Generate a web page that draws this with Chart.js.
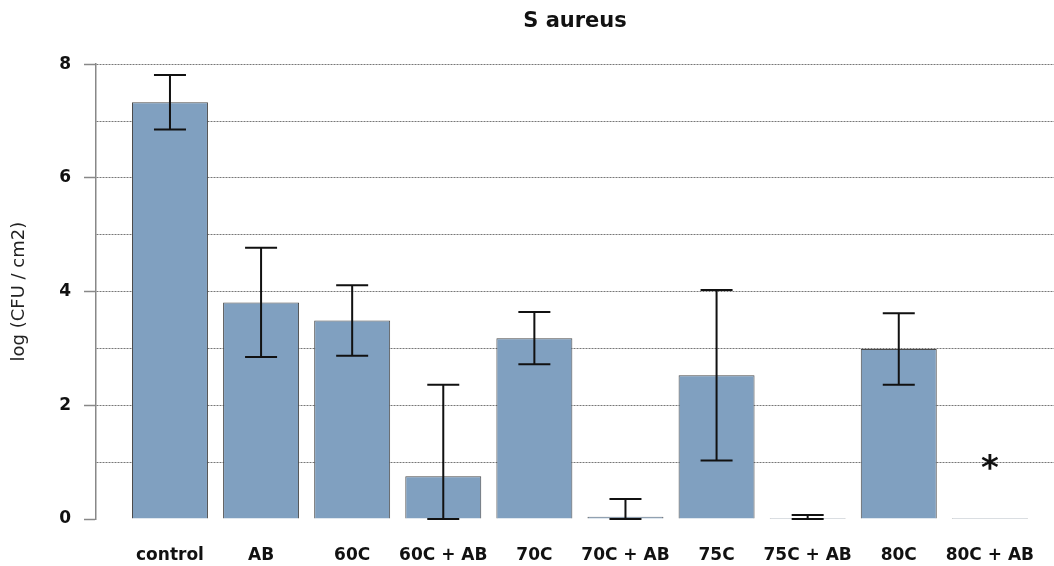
<!DOCTYPE html>
<html>
<head>
<meta charset="utf-8">
<script src="https://cdn.jsdelivr.net/npm/chart.js@4"></script>
<style>
  html, body { margin: 0; padding: 0; background: #fff; }
  #wrap { width: 1054px; height: 566px; }
</style>
</head>
<body>
<div id="wrap"><canvas id="chart"></canvas></div>
<script>
// data
var categories = ['control', 'AB', '60C', '60C + AB', '70C', '70C + AB', '75C', '75C + AB', '80C', '80C + AB'];
var means = [7.33, 3.81, 3.49, 0.75, 3.18, 0.04, 2.53, 0.015, 2.99, 0];
var errors = [0.48, 0.96, 0.62, 1.61, 0.46, 0.31, 1.50, 0.055, 0.63, 0];
var marks = ['', '', '', '', '', '', '', '', '', '*'];
var yTicks = [0, 2, 4, 6, 8];

var FONT = '"DejaVu Sans", "Liberation Sans", Arial, sans-serif';

// error bars + significance mark, drawn with the chart's own scales
var errorBars = {
    id: 'errorBars',
    afterDatasetsDraw: function (chart) {
        var ctx = chart.ctx;
        var x = chart.scales.x, y = chart.scales.y;
        ctx.save();
        ctx.strokeStyle = '#111';
        ctx.lineWidth = 2;
        for (var i = 0; i < means.length; i++) {
            if (!errors[i]) continue;
            var px = x.getPixelForValue(i);
            var top = y.getPixelForValue(means[i] + errors[i]);
            var bot = y.getPixelForValue(Math.max(0, means[i] - errors[i]));
            ctx.beginPath();
            ctx.moveTo(px, top); ctx.lineTo(px, bot);
            ctx.moveTo(px - 16, top); ctx.lineTo(px + 16, top);
            ctx.moveTo(px - 16, bot); ctx.lineTo(px + 16, bot);
            ctx.stroke();
        }
        ctx.fillStyle = '#111';
        ctx.font = 'bold 34px ' + FONT;
        ctx.textAlign = 'center';
        ctx.textBaseline = 'alphabetic';
        for (var j = 0; j < marks.length; j++) {
            if (!marks[j]) continue;
            ctx.fillText(marks[j], x.getPixelForValue(j), y.getPixelForValue(means[j] + errors[j]) - 40);
        }
        ctx.restore();
    }
};

var ctx = document.getElementById('chart');
new Chart(ctx, {
    type: 'bar',
    data: {
        datasets: [{
            data: means.map(function (v, i) { return { x: i, y: v }; }),
            backgroundColor: 'rgb(128,160,192)',
            borderColor: '#4a4a4a',
            borderWidth: 1,
            minBarLength: 1,
            barPercentage: 0.834,
            categoryPercentage: 1
        }]
    },
    options: {
        responsive: true,
        maintainAspectRatio: false,
        animation: false,
        layout: { padding: { left: 0, right: 0, top: 0, bottom: 0 } },
        plugins: {
            legend: { display: false },
            tooltip: { enabled: false },
            title: {
                display: true,
                fullSize: false,
                text: 'S aureus',
                color: '#111',
                font: { family: FONT, size: 21, weight: 'bold' },
                padding: { top: 9, bottom: 30 }
            }
        },
        scales: {
            x: {
                type: 'linear',
                offset: false,
                min: -0.812,
                max: 9.704,
                grid: { display: false, drawTicks: false, offset: false },
                border: { display: false },
                afterBuildTicks: function (scale) {
                    scale.ticks = categories.map(function (c, i) { return { value: i }; });
                },
                afterFit: function (scale) {
                    scale.height = 47;
                    scale.paddingLeft = 0;
                    scale.paddingRight = 0;
                },
                ticks: {
                    autoSkip: false,
                    maxRotation: 0,
                    padding: 26,
                    color: '#111',
                    font: { family: FONT, size: 17, weight: 'bold' },
                    callback: function (v) { return categories[v]; }
                }
            },
            y: {
                min: 0,
                max: 8,
                afterFit: function (scale) { scale.width = 96; },
                afterBuildTicks: function (scale) {
                    var t = [];
                    for (var v = 0; v <= 8; v++) t.push({ value: v });
                    scale.ticks = t;
                },
                title: {
                    display: true,
                    text: 'log (CFU / cm2)',
                    color: '#222',
                    font: { family: FONT, size: 18 },
                    padding: { top: 9, bottom: 0 }
                },
                border: { display: true, color: '#888', width: 1.5, dash: [2, 1] },
                grid: {
                    lineWidth: 1,
                    tickLength: 12,
                    color: function (c) { return c.tick && c.tick.value === 0 ? 'rgba(0,0,0,0)' : '#777'; },
                    tickColor: function (c) { return c.tick && yTicks.indexOf(c.tick.value) >= 0 ? '#888' : 'rgba(0,0,0,0)'; },
                    tickWidth: 1.5,
                    tickBorderDash: []
                },
                ticks: {
                    padding: 13,
                    color: '#111',
                    font: { family: FONT, size: 17, weight: 'bold' },
                    callback: function (v) { return yTicks.indexOf(v) >= 0 ? String(v) : ''; }
                }
            }
        }
    },
    plugins: [errorBars]
});
</script>
</body>
</html>
